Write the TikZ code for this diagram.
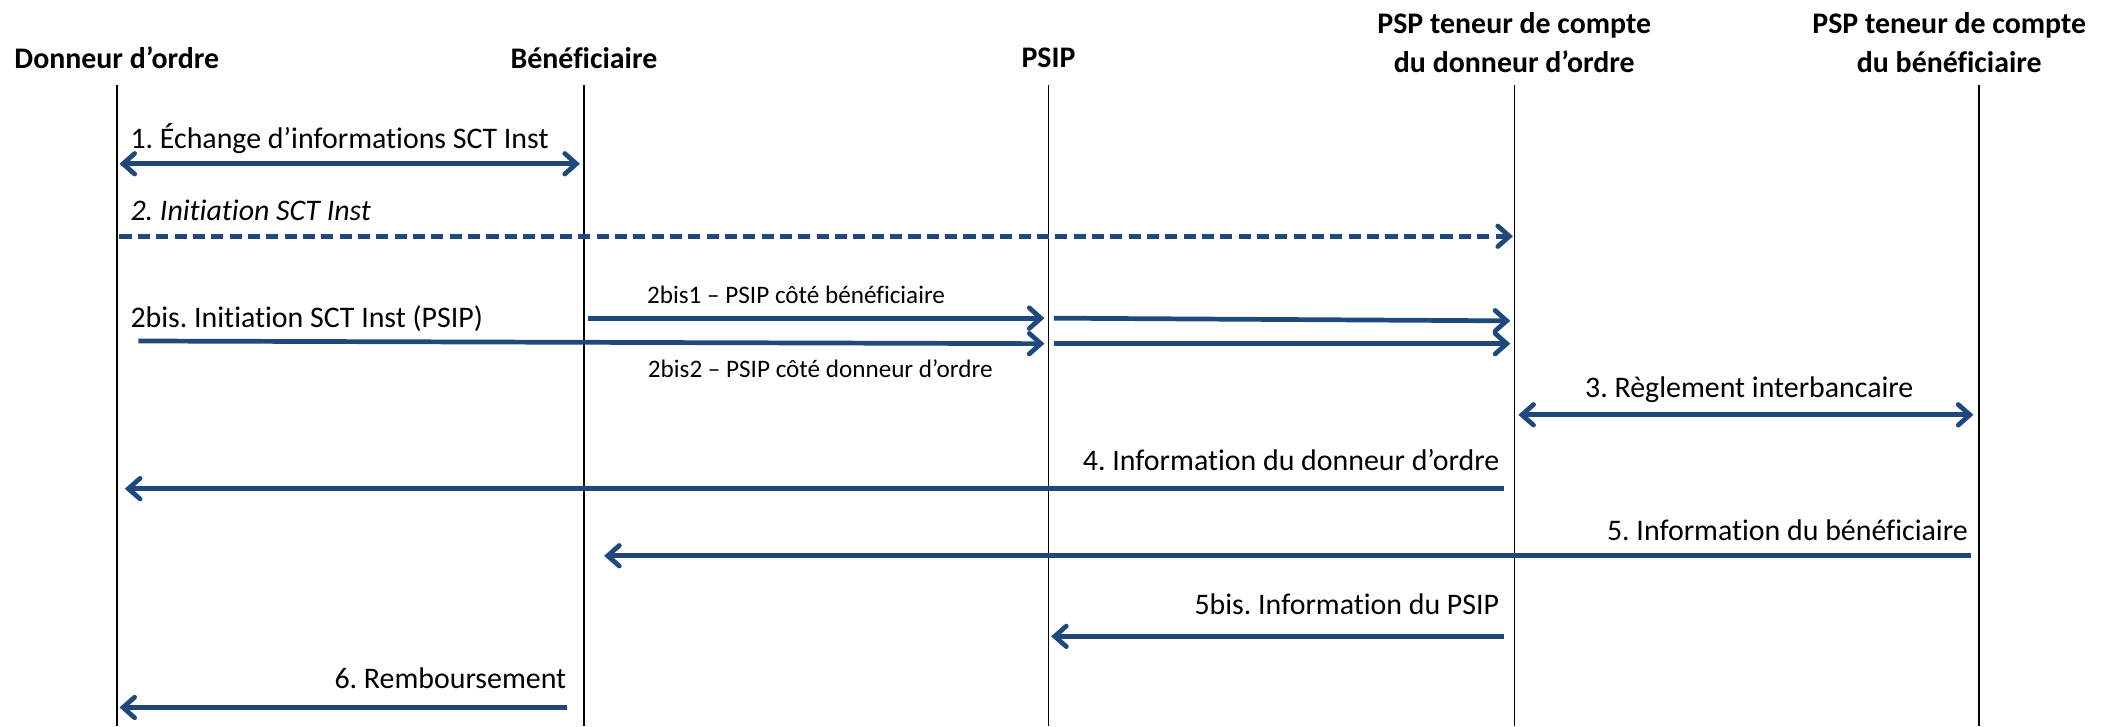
\documentclass[tikz,border=0pt]{standalone}
\usepackage{fontspec}
\setmainfont{Carlito}[Ligatures={NoCommon,NoContextual}]
\usetikzlibrary{positioning,arrows.meta}
\definecolor{msgblue}{RGB}{31,73,125}
\frenchspacing
\tikzset{actor/.style={font=\bfseries\fontsize{19}{25}\selectfont,align=center,inner sep=0pt},
	life/.style={draw=black,line width=1pt},
	msg/.style={draw=msgblue,line width=3pt,-{Straight Barb[length=2.6mm,width=4.6mm,line cap=round]}},
	both/.style={msg,{Straight Barb[length=2.6mm,width=4.6mm,line cap=round]}-{Straight Barb[length=2.6mm,width=4.6mm,line cap=round]}},
	lbl/.style={font=\fontsize{19}{23}\selectfont,inner sep=0pt},
	small/.style={font=\fontsize{16}{20}\selectfont,inner sep=0pt}}

\begin{document}
\begin{tikzpicture}[x=0.3mm,y=-0.3mm]
				\useasboundingbox (0,0) rectangle (1568,541);
				\node[actor] (donneur) at (87,43) {Donneur d’ordre};
				\node[actor] (benef) at (435,43) {Bénéficiaire};
				\node[actor] (psip) at (781,43) {PSIP};
				\node[actor] (pspd) at (1128,32) {PSP teneur de compte\\du donneur d’ordre};
				\node[actor] (pspb) at (1452,32) {PSP teneur de compte\\du bénéficiaire};

				\coordinate (dtop) at (87,63);   \coordinate (dbot) at (87,541);
				\coordinate (btop) at (435,63);  \coordinate (bbot) at (435,541);
				\coordinate (ptop) at (781,63);  \coordinate (pbot) at (781,541);
				\coordinate (ddtop) at (1128,63); \coordinate (ddbot) at (1128,541);
				\coordinate (dbtop) at (1474,63); \coordinate (dbbot) at (1474,541);

				\path[life]
				(dtop) -- (dbot)
				(btop) -- (bbot)
				(ptop) -- (pbot)
				(ddtop) -- (ddbot)
				(dbtop) -- (dbbot)
				;

				\coordinate (e1a) at (89,122);   \coordinate (e1b) at (432,122);
				\coordinate (e2a) at (89,176);   \coordinate (e2b) at (1127,176);
				\coordinate (b1a) at (438,237);  \coordinate (b1b) at (778,237);
				\coordinate (b1c) at (785,237);  \coordinate (b1d) at (1125,239);
				\coordinate (b2a) at (103,254);  \coordinate (b2b) at (778,256);
				\coordinate (b2c) at (785,256);  \coordinate (b2d) at (1125,256);
				\coordinate (r3a) at (1131,309); \coordinate (r3b) at (1470,309);
				\coordinate (i4a) at (1120,364); \coordinate (i4b) at (93,364);
				\coordinate (i5a) at (1468,414); \coordinate (i5b) at (450,414);
				\coordinate (p5a) at (1120,474); \coordinate (p5b) at (783,474);
				\coordinate (r6a) at (422,527);  \coordinate (r6b) at (89,527);

				\draw[both] (e1a) -- (e1b);
				\draw[msg,dash pattern=on 2.7mm off 1.4mm] (e2a) -- (e2b);
				\draw[msg] (b1a) -- (b1b);
				\draw[msg] (b1c) -- (b1d);
				\draw[msg] (b2a) -- (b2b);
				\draw[msg] (b2c) -- (b2d);
				\draw[both] (r3a) -- (r3b);
				\draw[msg] (i4a) -- (i4b);
				\draw[msg] (i5a) -- (i5b);
				\draw[msg] (p5a) -- (p5b);
				\draw[msg] (r6a) -- (r6b);

				\node[lbl,anchor=west] (t1) at (97,103) {1. Échange d’informations SCT Inst};
				\node[lbl,anchor=west,font=\itshape\fontsize{19}{23}\selectfont] (t2) at (97,157) {2. Initiation SCT Inst};
				\node[lbl,anchor=west] (t2b) at (97,237) {2bis. Initiation SCT Inst (PSIP)};
				\node[small] (t2b1) at (593,220) {2bis1 – PSIP côté bénéficiaire};
				\node[small] (t2b2) at (611,275) {2bis2 – PSIP côté donneur d’ordre};
				\node[lbl] (t3) at (1303,290) {3. Règlement interbancaire};
				\node[lbl,anchor=east] (t4) at (1117,343) {4. Information du donneur d’ordre};
				\node[lbl,anchor=east] (t5) at (1466,395) {5. Information du bénéficiaire};
				\node[lbl,anchor=east] (t5b) at (1117,450) {5bis. Information du PSIP};
				\node[lbl,anchor=east] (t6) at (422,505) {6. Remboursement};
			\end{tikzpicture}
\end{document}
